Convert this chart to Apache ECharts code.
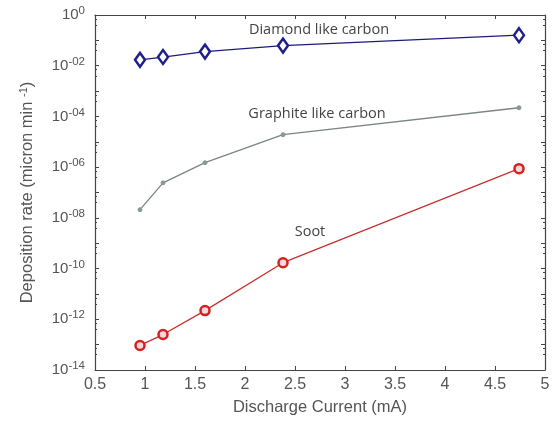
<!DOCTYPE html>
<html>
<head>
<meta charset="utf-8">
<script src="https://cdn.jsdelivr.net/npm/echarts@6/dist/echarts.min.js"></script>
<style>
  html, body { margin: 0; padding: 0; background: #fff; }
  #chart { width: 557px; height: 421px; }
</style>
</head>
<body>
<div id="chart"></div>
<script>
// Discharge current (mA) at each measurement
const current = [0.95, 1.18, 1.6, 2.38, 4.74];

// Deposition rates (micron / min) for each deposit type
const diamondRate = [1.7e-2, 2.2e-2, 3.6e-2, 6.2e-2, 1.6e-1];
const graphiteRate = [2.1e-8, 2.4e-7, 1.5e-6, 1.9e-5, 2.2e-4];
const sootRate = [9.3e-14, 2.5e-13, 2.2e-12, 1.7e-10, 8.7e-7];

// Curve annotations: [x, y] in data units
const diamondNote = [2.74, 0.26];
const graphiteNote = [2.72, 1.3e-4];
const sootNote = [2.65, 2.8e-9];

const pairs = (xs, ys) => xs.map((x, i) => [x, ys[i]]);

const axisGray = '#444';
const textGray = '#555';
const tickFont = 'Liberation Sans, Arial, sans-serif';
const noteFont = '"Open Sans", "Noto Sans", sans-serif';

// Decade labels every second power of ten, written as 10^-NN
function expLabel(v) {
  const e = Math.round(Math.log10(v));
  if (e % 2 !== 0) return '';
  const s = e === 0 ? '0' : '-' + String(-e).padStart(2, '0');
  return '{b|10}{s|' + s + '}';
}

function note(coord, text) {
  return {
    symbol: 'circle', symbolSize: 1,
    itemStyle: { color: 'rgba(0,0,0,0)' },
    silent: true,
    data: [{
      coord: coord,
      label: {
        show: true, position: 'inside', formatter: text,
        fontFamily: noteFont, fontSize: 14.5, color: '#444'
      }
    }]
  };
}

const chart = echarts.init(document.getElementById('chart'), null, { renderer: 'canvas' });

chart.setOption({
  animation: false,
  backgroundColor: '#fff',
  grid: { left: 95, right: 12, top: 15, bottom: 49 },
  xAxis: [{
    type: 'value', min: 0.5, max: 5, interval: 0.5,
    name: 'Discharge Current (mA)', nameLocation: 'middle', nameGap: 29,
    nameTextStyle: { fontFamily: tickFont, fontSize: 16.5, color: textGray },
    axisLine: { lineStyle: { color: axisGray, width: 1.2 } },
    axisTick: { inside: true, length: 4, lineStyle: { color: axisGray } },
    axisLabel: { fontFamily: tickFont, fontSize: 16, color: textGray, margin: 7 },
    splitLine: { show: false }
  }, {
    type: 'value', position: 'top', min: 0.5, max: 5, interval: 0.5,
    axisLine: { lineStyle: { color: axisGray, width: 1.2 } },
    axisTick: { inside: true, length: 4, lineStyle: { color: axisGray } },
    axisLabel: { show: false },
    splitLine: { show: false }
  }],
  yAxis: [{
    type: 'log', logBase: 10, min: 1e-14, max: 1, interval: 1,
    name: 'Deposition rate (micron min {s|-1})', nameLocation: 'middle', nameGap: 59,
    nameTextStyle: {
      fontFamily: tickFont, fontSize: 16.5, color: textGray,
      rich: { s: { fontFamily: tickFont, fontSize: 11, color: textGray, verticalAlign: 'top', padding: [0, 0, 7, 0] } }
    },
    axisLine: { show: true, lineStyle: { color: axisGray, width: 1.2 } },
    axisTick: { inside: true, length: 4, interval: 0, lineStyle: { color: axisGray } },
    minorTick: { show: true, splitNumber: 3, length: 2, lineStyle: { color: axisGray } },
    axisLabel: {
      margin: 10,
      formatter: expLabel,
      rich: {
        b: { fontFamily: tickFont, fontSize: 15, color: textGray },
        s: { fontFamily: tickFont, fontSize: 11.5, color: textGray, verticalAlign: 'top', padding: [0, 0, 8, 0] }
      }
    },
    splitLine: { show: false },
    minorSplitLine: { show: false }
  }, {
    type: 'log', logBase: 10, min: 1e-14, max: 1, interval: 1, position: 'right',
    axisLine: { show: true, lineStyle: { color: axisGray, width: 1.2 } },
    axisTick: { inside: true, length: 4, interval: 0, lineStyle: { color: axisGray } },
    minorTick: { show: true, splitNumber: 3, length: 2, lineStyle: { color: axisGray } },
    axisLabel: { show: false },
    splitLine: { show: false }
  }],
  series: [{
    name: 'Diamond like carbon', type: 'line',
    data: pairs(current, diamondRate),
    symbol: 'diamond', symbolSize: [10, 14],
    lineStyle: { color: '#1c1c7a', width: 1.3 },
    itemStyle: { color: '#fff', borderColor: '#1e1e8c', borderWidth: 2.5 },
    markPoint: note(diamondNote, 'Diamond like carbon')
  }, {
    name: 'Graphite like carbon', type: 'line',
    data: pairs(current, graphiteRate),
    symbol: 'circle', symbolSize: 4,
    lineStyle: { color: '#7a8585', width: 1.3 },
    itemStyle: { color: '#8c9696', borderColor: '#8c9696', borderWidth: 1 },
    markPoint: note(graphiteNote, 'Graphite like carbon')
  }, {
    name: 'Soot', type: 'line',
    data: pairs(current, sootRate),
    symbol: 'circle', symbolSize: 9,
    lineStyle: { color: '#c83030', width: 1.3 },
    itemStyle: { color: '#f6dada', borderColor: '#d42020', borderWidth: 2.5 },
    markPoint: note(sootNote, 'Soot')
  }]
});
</script>
</body>
</html>
